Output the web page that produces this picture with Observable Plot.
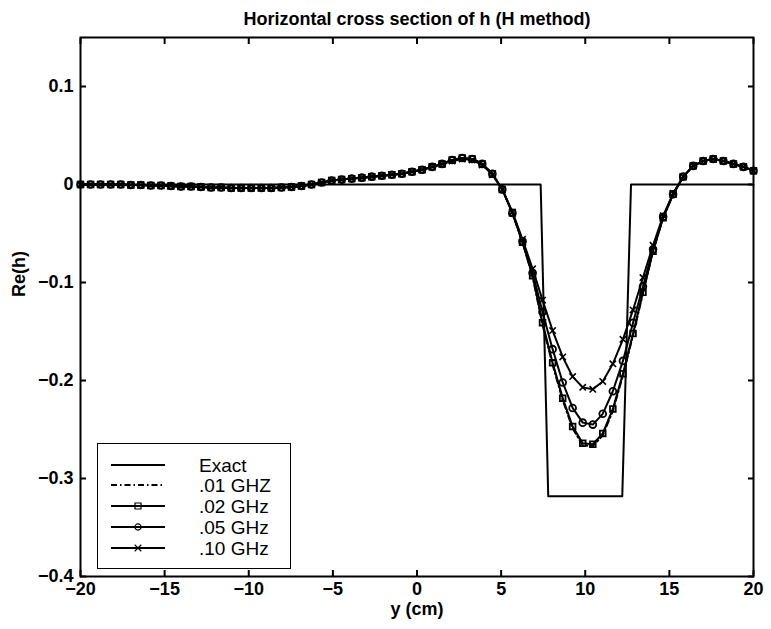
<!DOCTYPE html>
<html><head><meta charset="utf-8">
<script src="https://cdn.jsdelivr.net/npm/d3@7"></script>
<script src="https://cdn.jsdelivr.net/npm/@observablehq/plot@0.6"></script>
<style>
body{margin:0;background:#fff;font-family:"Liberation Sans",Arial,sans-serif}
#wrap{position:relative;width:771px;height:629px}
#legend{position:absolute;left:97px;top:443px;width:192px;height:124px;border:1px solid #000;background:#fff}
</style></head><body><div id="wrap"></div><script>
const title = "Horizontal cross section of h (H method)";
const xLabel = "y (cm)";
const yLabel = "Re(h)";
const xTicks = [-20, -15, -10, -5, 0, 5, 10, 15, 20];
const yTicks = [-0.4, -0.3, -0.2, -0.1, 0, 0.1];
const seriesNames = ["Exact", ".01 GHZ", ".02 GHz", ".05 GHz", ".10 GHz"];

// Exact profile
const exactX = [-20, 7.35, 7.8, 12.2, 12.72, 20];
const exactY = [0, 0, -0.318, -0.318, 0, 0];

// sample positions (cm)
const xs = [-20.00,-19.40,-18.81,-18.21,-17.61,-17.01,-16.42,-15.82,-15.22,-14.63,-14.03,-13.43,-12.84,-12.24,-11.64,-11.04,-10.45,-9.85,-9.25,-8.66,-8.06,-7.46,-6.87,-6.27,-5.67,-5.07,-4.48,-3.88,-3.28,-2.69,-2.09,-1.49,-0.90,-0.30,0.30,0.90,1.49,2.09,2.69,3.28,3.88,4.48,5.07,5.67,6.27,6.87,7.46,8.06,8.66,9.25,9.85,10.45,11.04,11.64,12.24,12.84,13.43,14.03,14.63,15.22,15.82,16.42,17.01,17.61,18.21,18.81,19.40,20.00];

const ghz01 = [0,0,0,0,0,-0.0005,-0.0005,-0.001,-0.001,-0.0015,-0.002,-0.002,-0.0025,-0.003,-0.003,-0.0035,-0.0035,-0.0035,-0.0035,-0.0035,-0.003,-0.0025,-0.0015,0,0.002,0.004,0.005,0.006,0.007,0.008,0.009,0.010,0.011,0.013,0.015,0.018,0.021,0.025,0.027,0.026,0.021,0.011,-0.005,-0.029,-0.059,-0.094,-0.143,-0.184,-0.220,-0.249,-0.266,-0.267,-0.256,-0.231,-0.195,-0.154,-0.111,-0.068,-0.034,-0.010,0.008,0.019,0.024,0.026,0.024,0.021,0.018,0.014];
const ghz02 = [0,0,0,0,0,-0.0005,-0.0005,-0.001,-0.001,-0.0015,-0.002,-0.002,-0.0025,-0.003,-0.003,-0.0035,-0.0035,-0.0035,-0.0035,-0.0035,-0.003,-0.0025,-0.0015,0,0.002,0.004,0.005,0.006,0.007,0.008,0.009,0.010,0.011,0.013,0.015,0.018,0.021,0.025,0.027,0.026,0.021,0.011,-0.005,-0.029,-0.059,-0.093,-0.141,-0.182,-0.218,-0.247,-0.264,-0.265,-0.254,-0.229,-0.193,-0.152,-0.110,-0.068,-0.034,-0.010,0.008,0.019,0.024,0.026,0.024,0.021,0.018,0.014];
const ghz05 = [0,0,0,0,0,-0.0005,-0.0005,-0.001,-0.001,-0.0015,-0.002,-0.002,-0.0025,-0.003,-0.003,-0.0035,-0.0035,-0.0035,-0.0035,-0.0035,-0.003,-0.0025,-0.0015,0,0.002,0.004,0.005,0.006,0.007,0.008,0.009,0.010,0.011,0.013,0.015,0.018,0.021,0.025,0.027,0.026,0.021,0.011,-0.005,-0.029,-0.058,-0.090,-0.130,-0.168,-0.202,-0.228,-0.243,-0.245,-0.234,-0.211,-0.180,-0.141,-0.104,-0.066,-0.033,-0.010,0.008,0.019,0.024,0.026,0.024,0.021,0.018,0.014];
const ghz10 = [0,0,0,0,0,-0.0005,-0.0005,-0.001,-0.001,-0.0015,-0.002,-0.002,-0.0025,-0.003,-0.003,-0.0035,-0.0035,-0.0035,-0.0035,-0.0035,-0.003,-0.0025,-0.0015,0,0.002,0.004,0.005,0.006,0.007,0.008,0.009,0.010,0.011,0.013,0.015,0.018,0.021,0.024,0.026,0.025,0.020,0.010,-0.005,-0.028,-0.056,-0.086,-0.118,-0.149,-0.176,-0.196,-0.207,-0.209,-0.201,-0.183,-0.158,-0.128,-0.095,-0.062,-0.032,-0.009,0.008,0.019,0.024,0.026,0.024,0.021,0.018,0.014];

const exactRows = exactX.map((x, i) => ({x, y: exactY[i]}));
const toRows = vals => xs.map((x, i) => ({x, y: vals[i]}));
const r01 = toRows(ghz01), r02 = toRows(ghz02), r05 = toRows(ghz05), r10 = toRows(ghz10);

const FONT = "Liberation Sans, Arial, Helvetica, sans-serif";
const lw = 2;
const chart = Plot.plot({
  width: 771, height: 629,
  marginLeft: 80, marginRight: 18, marginTop: 37, marginBottom: 53,
  style: {fontFamily: FONT, fontSize: "18px", fontWeight: "bold", background: "#fff", color: "#000"},
  x: {domain: [-20, 20]},
  y: {domain: [-0.4, 0.15]},
  marks: [
    Plot.line(exactRows, {x: "x", y: "y", stroke: "black", strokeWidth: 2}),
    Plot.line(r01, {x: "x", y: "y", stroke: "black", strokeWidth: lw, strokeDasharray: "6,3,1.5,3"}),
    Plot.line(r02, {x: "x", y: "y", stroke: "black", strokeWidth: lw}),
    Plot.dot(r02, {x: "x", y: "y", symbol: "square", r: 3.2, stroke: "black", strokeWidth: 1.8, fill: "none"}),
    Plot.line(r05, {x: "x", y: "y", stroke: "black", strokeWidth: lw}),
    Plot.dot(r05, {x: "x", y: "y", symbol: "circle", r: 3.4, stroke: "black", strokeWidth: 1.8, fill: "none"}),
    Plot.line(r10, {x: "x", y: "y", stroke: "black", strokeWidth: lw}),
    Plot.dot(r10, {x: "x", y: "y", symbol: "times", r: 3, stroke: "black", strokeWidth: 1.6}),
    Plot.frame({stroke: "black", strokeWidth: 2}),
    Plot.axisX(xTicks, {anchor: "bottom", tickSize: -6, tickPadding: 12, strokeWidth: 2, label: null, fontSize: 18, fontWeight: "bold"}),
    Plot.axisX(xTicks, {anchor: "top", tickSize: -6, strokeWidth: 2, tickFormat: () => "", label: null}),
    Plot.axisY(yTicks, {anchor: "left", tickSize: -6, tickPadding: 13, strokeWidth: 2, label: null, tickFormat: d => d === 0 ? "0" : d3.format(".1f")(d).replace("-", "\u2212"), fontSize: 18, fontWeight: "bold"}),
    Plot.axisY(yTicks, {anchor: "right", tickSize: -6, strokeWidth: 2, tickFormat: () => "", label: null}),
    Plot.text([title], {frameAnchor: "top", dy: -25, fontSize: 18, fontWeight: "bold", fill: "black"}),
    Plot.text([xLabel], {frameAnchor: "bottom", dy: 38, fontSize: 18, fontWeight: "bold", fill: "black"}),
    Plot.text([yLabel], {frameAnchor: "left", dx: -61, dy: -10, rotate: -90, fontSize: 18, fontWeight: "bold", fill: "black"})
  ]
});
const wrap = document.getElementById("wrap");
wrap.appendChild(chart);

// Legend
const leg = document.createElement("div");
leg.id = "legend";
wrap.appendChild(leg);
const svg = d3.select(leg).append("svg").attr("width", 192).attr("height", 124);
const rowsY = [21, 41, 62, 83, 104];
const styles = [
  {dash: null, sym: null},
  {dash: "6,3,1.5,3", sym: null},
  {dash: null, sym: d3.symbolSquare},
  {dash: null, sym: d3.symbolCircle},
  {dash: null, sym: d3.symbolTimes}
];
seriesNames.forEach((name, i) => {
  const g = svg.append("g").attr("transform", `translate(0,${rowsY[i]})`);
  g.append("line").attr("x1", 13).attr("x2", 67).attr("stroke", "black").attr("stroke-width", 2)
    .attr("stroke-dasharray", styles[i].dash);
  if (styles[i].sym) {
    g.append("path").attr("transform", "translate(40,0)")
      .attr("d", d3.symbol(styles[i].sym, styles[i].sym === d3.symbolSquare ? 36 : 30)())
      .attr("fill", "none").attr("stroke", "black").attr("stroke-width", 1.2);
  }
  g.append("text").attr("x", 101).attr("y", 0).attr("dy", "0.35em")
    .attr("font-family", FONT).attr("font-size", 19).text(name);
});
</script></body></html>
